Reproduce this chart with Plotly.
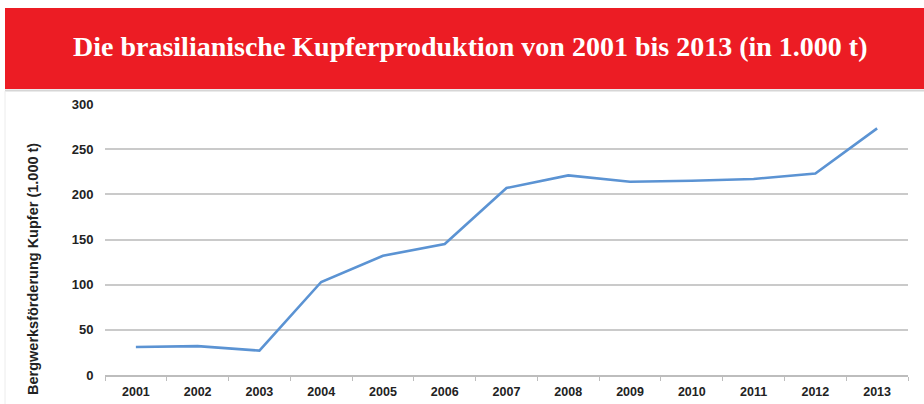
import plotly.graph_objects as go

# data
years = ["2001", "2002", "2003", "2004", "2005", "2006", "2007",
         "2008", "2009", "2010", "2011", "2012", "2013"]
production = [31, 32, 27, 103, 132, 145, 207, 221, 214, 215, 217, 223, 273]

title_text = "Die brasilianische Kupferproduktion von 2001 bis 2013 (in 1.000 t)"
y_title = "Bergwerksförderung Kupfer (1.000 t)"

W, H = 924, 404
L, R, T, B = 105, 16, 104, 29
pw = W - L - R
ph = H - T - B

def px(x):
    return (x - L) / pw

def py(y):
    return (H - B - y) / ph

fig = go.Figure()
fig.add_trace(go.Scatter(
    x=years, y=production, mode="lines",
    line=dict(color="#5b93d3", width=2.6),
    hoverinfo="x+y", showlegend=False,
))

fig.update_layout(
    width=W, height=H,
    margin=dict(l=L, r=R, t=T, b=B),
    paper_bgcolor="white", plot_bgcolor="white",
    font=dict(family="Liberation Sans, Arial, sans-serif", color="#222"),
    xaxis=dict(
        type="category", tickson="boundaries", range=[-0.5, 12.5],
        ticks="outside", ticklen=4, tickcolor="#bdbdbd", tickwidth=1,
        showline=True, linecolor="#bdbdbd", linewidth=1.5,
        showgrid=False, ticklabelstandoff=4, automargin=False,
        tickfont=dict(size=12.5, family="Liberation Sans, Arial", weight="bold"),
        fixedrange=True,
    ),
    yaxis=dict(
        range=[0, 300], dtick=50, automargin=False,
        showgrid=True, gridcolor="#cacaca", gridwidth=1.6,
        zeroline=False, showline=False,
        ticks="outside", ticklen=8, tickcolor="rgba(0,0,0,0)",
        tickfont=dict(size=13, family="Liberation Sans, Arial", weight="bold"),
        fixedrange=True,
    ),
    shapes=[
        dict(type="rect", xref="paper", yref="paper",
             x0=px(5), x1=px(W + 2), y0=py(89), y1=py(8),
             fillcolor="#ec1c24", line=dict(width=0), layer="below"),
        dict(type="line", xref="paper", yref="paper",
             x0=px(5), x1=px(W + 2), y0=py(90.5), y1=py(90.5),
             line=dict(color="#d6d6d6", width=2)),
        dict(type="line", xref="paper", yref="paper",
             x0=px(5), x1=px(5), y0=py(91), y1=py(H),
             line=dict(color="#ececec", width=1)),
    ],
    annotations=[
        dict(text="<b>" + title_text + "</b>", xref="paper", yref="paper",
             x=px(470), y=py(47), xanchor="center", yanchor="middle",
             showarrow=False,
             font=dict(family="Liberation Serif, DejaVu Serif, serif",
                       size=28, color="white")),
        dict(text="<b>" + y_title + "</b>", xref="paper", yref="paper",
             x=px(33), y=py(269), xanchor="center", yanchor="middle",
             textangle=-90, showarrow=False,
             font=dict(family="Liberation Sans, Arial", size=14.5, color="#222")),
    ],
)

# drop the default 8px body margin so the figure sits at the page corner
fig.write_html("out.html", config={"displayModeBar": False},
               post_script="document.body.style.margin='0';")
